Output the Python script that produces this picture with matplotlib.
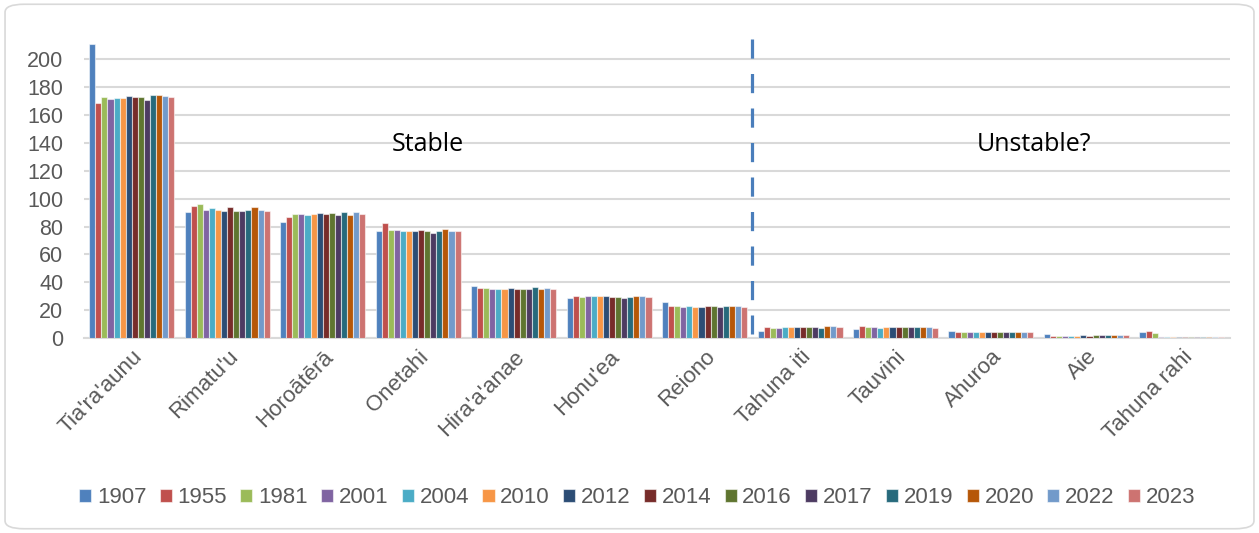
import numpy as np
import matplotlib
matplotlib.use("Agg")
import matplotlib.pyplot as plt
from matplotlib.patches import FancyBboxPatch

# categories and years
sites = ["Tia'ra'aunu", "Rimatu'u", "Horoātērā", "Onetahi", "Hira'a'anae", "Honu'ea",
         "Reiono", "Tahuna iti", "Tauvini", "Ahuroa", "Aie", "Tahuna rahi"]
years = ["1907", "1955", "1981", "2001", "2004", "2010", "2012",
         "2014", "2016", "2017", "2019", "2020", "2022", "2023"]
colors = ["#4F81BD", "#C0504D", "#9BBB59", "#8064A2", "#4BACC6", "#F79646", "#2C4D75",
          "#772C2A", "#5F7530", "#4D3B62", "#276A7C", "#B65708", "#729ACA", "#CD7371"]

# values per site, one per year
tiaraaunu = [211, 169, 173, 171.5, 172, 172, 173.6, 173, 173.4, 171, 174.3, 174.3, 173.6, 173]
rimatuu = [90.5, 94.6, 96.5, 92.2, 93.2, 92.2, 91.5, 93.9, 91.5, 91.5, 91.7, 93.9, 92.2, 91.5]
horoatera = [83.1, 86.7, 89.1, 89.1, 88.4, 89.1, 90, 89.1, 89.6, 88.6, 90.5, 88.6, 90.5, 89.1]
onetahi = [76.6, 82.7, 77.6, 77.6, 77.1, 76.6, 77.1, 77.6, 76.6, 75.7, 77.1, 78.1, 77.1, 76.6]
hiraaanae = [37.6, 35.9, 35.9, 35.4, 34.9, 35.4, 35.9, 35.4, 35.4, 34.9, 36.4, 34.9, 35.9, 35.4]
honuea = [28.7, 30.4, 29.4, 30.4, 29.9, 29.9, 29.9, 29.4, 29.4, 28.9, 29.4, 30.4, 29.9, 29.4]
reiono = [25.8, 23.1, 23.1, 22.4, 23.1, 22.4, 22.4, 23.1, 23.1, 22.4, 23.1, 23.1, 23.1, 22.4]
tahuna_iti = [4.8, 7.7, 7.2, 7.2, 7.7, 7.7, 7.7, 7.7, 7.7, 7.7, 7.2, 8.7, 8.7, 7.7]
tauvini = [6.7, 8.4, 7.7, 7.7, 7.2, 7.7, 7.7, 7.7, 7.7, 7.7, 7.7, 7.7, 7.7, 7.2]
ahuroa = [4.8, 4.6, 4.6, 4.1, 4.1, 4.1, 4.1, 4.1, 4.1, 4.1, 4.1, 4.1, 4.6, 4.1]
aie = [2.7, 1.7, 1.7, 1.7, 1.7, 1.7, 1.9, 1.7, 1.9, 1.9, 2.2, 1.9, 1.9, 1.9]
tahuna_rahi = [4.6, 5.1, 3.4, 1.0, 1.0, 0.5, 0.5, 0.5, 0.5, 0.5, 0.5, 0.5, 0.5, 0.5]

data = np.array([tiaraaunu, rimatuu, horoatera, onetahi, hiraaanae, honuea, reiono,
                 tahuna_iti, tauvini, ahuroa, aie, tahuna_rahi])

plt.rcParams['font.family'] = ['Liberation Sans', 'DejaVu Sans']

fig = plt.figure(figsize=(12.59, 5.33), dpi=100)
# rounded chart border
fig.patches.append(FancyBboxPatch((0.004, 0.008), 0.992, 0.984,
                                  boxstyle="round,pad=0,rounding_size=0.015",
                                  transform=fig.transFigure, facecolor="white",
                                  edgecolor="#d9d9d9", linewidth=1.2, zorder=-10))

ax = fig.add_axes([0.0667, 0.366, 0.910, 0.5694])
ax.set_facecolor("none")

x = np.arange(len(sites))
n = len(years)
group = 0.89
w = group / n
for i, (yr, c) in enumerate(zip(years, colors)):
    offs = -group / 2 + w * (i + 0.5)
    ax.bar(x + offs, data[:, i], width=w, color=c, edgecolor=(1, 1, 1, 0.55),
           linewidth=0.8, label=yr, zorder=3)

# dashed separator between stable and unstable sites
ax.plot([6.5, 6.5], [214.6, 2.5], color="#4a7ebb", linewidth=2.3,
        dashes=(6, 4.8), zorder=4, solid_capstyle="butt")

ax.text(3.1, 139, "Stable", fontsize=18, family=['Open Sans', 'DejaVu Sans'],
        ha="center", va="center", color="black")
ax.text(9.45, 139, "Unstable?", fontsize=18, family=['Open Sans', 'DejaVu Sans'],
        ha="center", va="center", color="black")

ax.set_xlim(-0.5, 11.5)
ax.set_ylim(0, 218)
ax.set_yticks(np.arange(0, 201, 20))
ax.yaxis.grid(True, color="#d9d9d9", linewidth=1.5, zorder=0)
ax.set_axisbelow(True)
for s in ["top", "right", "left"]:
    ax.spines[s].set_visible(False)
ax.spines["bottom"].set_color("#d9d9d9")
ax.spines["bottom"].set_linewidth(1.5)
ax.tick_params(axis="y", length=0, pad=15, labelsize=15.5, labelcolor="#595959")
ax.tick_params(axis="x", length=0, pad=6, labelsize=16, labelcolor="#595959")
ax.set_xticks(x)
ax.set_xticklabels(sites, rotation=45, ha="right", rotation_mode="anchor")

leg = fig.legend(loc="center", bbox_to_anchor=(0.506, 0.066), ncol=14, frameon=False,
                 fontsize=16, handlelength=0.55, handleheight=0.55, handletextpad=0.25,
                 columnspacing=0.6, labelcolor="#595959")

fig.savefig("out.png", dpi=100)
